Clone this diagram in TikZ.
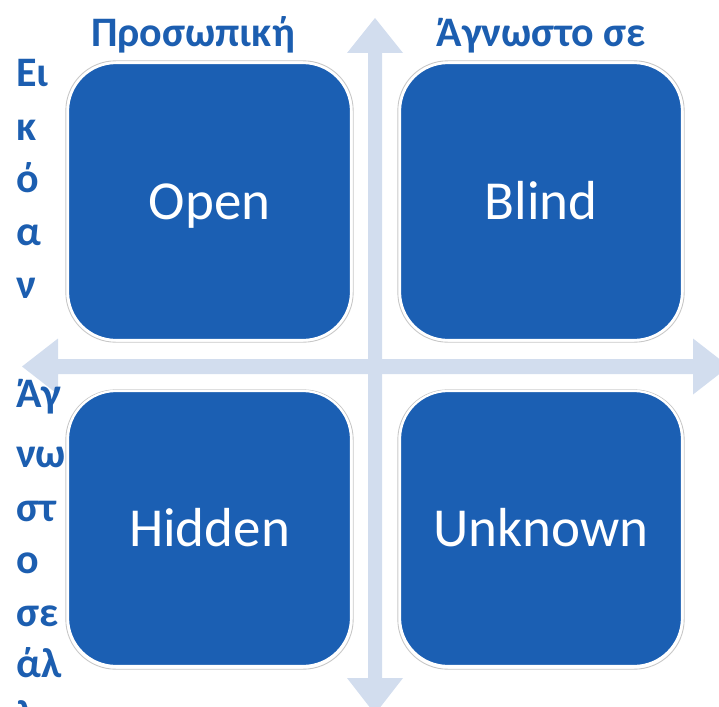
\documentclass[tikz,border=0pt]{standalone}
\usepackage{fontspec}
\setmainfont{Carlito}
\definecolor{boxblue}{RGB}{27,95,179}
\definecolor{labelblue}{RGB}{28,94,176}
\definecolor{axisgray}{RGB}{210,221,238}
\definecolor{rimgray}{RGB}{200,200,200}
\tikzset{
  quad/.style={rounded corners=48pt, fill=boxblue, draw=white, line width=2.2pt,
    text=white, font=\fontsize{55}{60}\selectfont, text height=35pt, text depth=0pt},
  rim/.style={rounded corners=50pt, draw=rimgray, line width=0.9pt},
  axislabel/.style={text=labelblue, font=\bfseries\fontsize{42}{50}\selectfont, inner sep=0pt},
  axis/.style={fill=axisgray},
}
\begin{document}
\begin{tikzpicture}[x=1pt,y=-1pt]
\useasboundingbox (0,0) rectangle (719,706);
\clip (0,0) rectangle (719,706);

% axes: vertical and horizontal double arrows
\fill[axis] (375,18) -- (403,53) -- (382,53) -- (382,678) -- (403,678) -- (375,714)
  -- (347,678) -- (368,678) -- (368,53) -- (347,53) -- cycle;
\fill[axis] (22,366.5) -- (58,338.5) -- (58,359) -- (693,359) -- (693,338.5) -- (729,366.5)
  -- (693,394.5) -- (693,374) -- (58,374) -- (58,394.5) -- cycle;

% the four quadrants
\foreach \xa/\ya/\xb/\yb in {68/63/351/340, 400/63/682/340, 68/392/351/667, 400/392/682/667}
  \draw[rim] (\xa-2.2,\ya-2.2) rectangle (\xb+2.2,\yb+2.2);
\node[quad, minimum width=283pt, minimum height=277pt] (open)    at (209.5,201.5) {Open};
\node[quad, minimum width=282pt, minimum height=277pt] (blind)   at (541,201.5)   {Blind};
\node[quad, minimum width=283pt, minimum height=275pt] (hidden)  at (209.5,528.5) {Hidden};
\node[quad, minimum width=282pt, minimum height=275pt] (unknown) at (541,528.5)   {Unknown};

% column headings
\node[axislabel, anchor=base] (colA) at (193,47) {Προσωπική};
\node[axislabel, anchor=base] (colB) at (541,47) {Άγνωστο σε};

% row headings, wrapped into a narrow column
\foreach \t/\y [count=\i] in {Ει/87, κ/140, ό/192, α/245, ν/298}
  \node[axislabel, anchor=base west] (rowA\i) at (16,\y) {\t};
\foreach \t/\y [count=\i] in {Άγ/407, νω/467, στ/521, ο/573, σε/626, άλ/677, λο/729}
  \node[axislabel, anchor=base west] (rowB\i) at (16,\y) {\t};
\end{tikzpicture}
\end{document}
